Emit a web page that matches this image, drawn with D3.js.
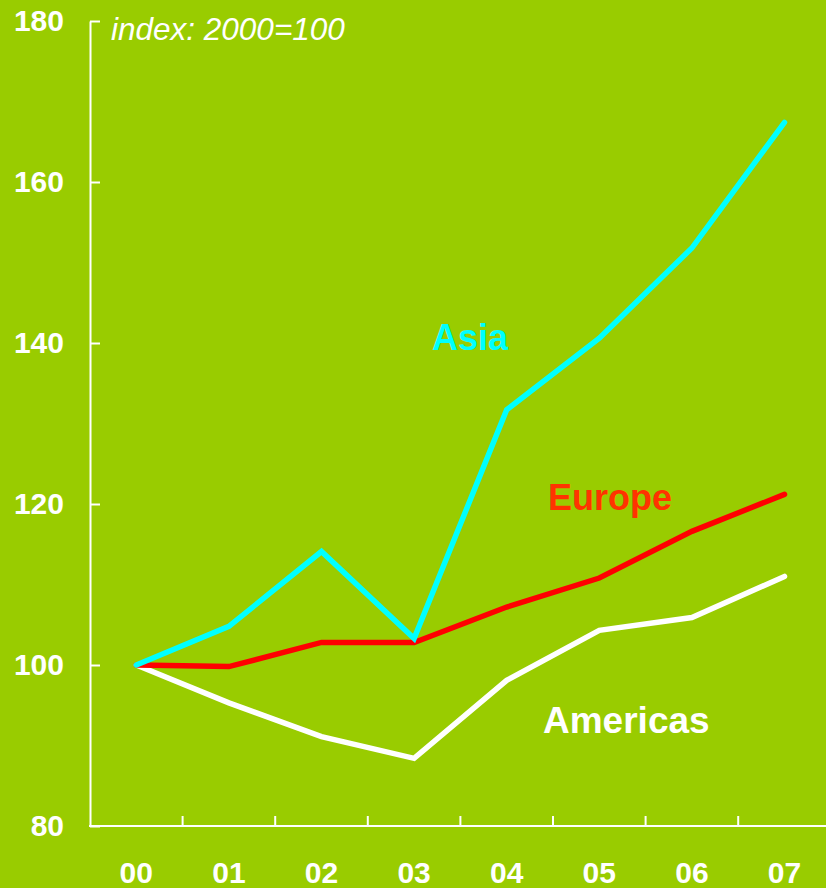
<!DOCTYPE html>
<html>
<head>
<meta charset="utf-8">
<script src="https://cdn.jsdelivr.net/npm/d3@7"></script>
<style>
  html, body { margin: 0; padding: 0; background: #99cc00; }
  svg { display: block; font-family: "Liberation Sans", Arial, sans-serif; }
</style>
</head>
<body>
<div id="chart"></div>
<script>
    // year labels on the x axis
    const years = ["00", "01", "02", "03", "04", "05", "06", "07"];
    const yTicks = [80, 100, 120, 140, 160, 180];

    // index values, 2000 = 100
    const asia = [100, 104.8, 114.1, 103.3, 131.7, 140.6, 151.8, 167.4];
    const europe = [100, 99.8, 102.8, 102.8, 107.2, 110.8, 116.6, 121.2];
    const americas = [100, 95.3, 91.1, 88.4, 98.1, 104.3, 105.9, 111.0];

    const width = 826, height = 888;

    const svg = d3.select("#chart")
        .append("svg")
        .attr("width", width)
        .attr("height", height);

    svg.append("rect")
        .attr("width", width)
        .attr("height", height)
        .attr("fill", "#99cc00");

    const x = d3.scaleBand()
        .domain(years)
        .range([90, 830.8]);
    const xMid = d => x(d) + x.bandwidth() / 2;

    const y = d3.scaleLinear()
        .domain([80, 180])
        .range([826, 21]);

    // Y axis: ticks point inwards, labels on the left
    const yAxis = svg.append("g")
        .attr("transform", "translate(90,0)")
        .call(d3.axisLeft(y)
            .tickValues(yTicks)
            .tickSizeInner(-10)
            .tickSizeOuter(0)
            .tickPadding(26));
    yAxis.selectAll("path, line")
        .attr("stroke", "white")
        .attr("stroke-width", 2);
    yAxis.selectAll("text")
        .attr("fill", "white")
        .style("font-size", "30px")
        .style("font-weight", "bold");

    // X axis: labels centred under each year, ticks between years
    const xAxis = svg.append("g")
        .attr("transform", "translate(0,826)")
        .call(d3.axisBottom(x).tickSize(0).tickPadding(36));
    xAxis.select(".domain").remove();
    xAxis.selectAll("text")
        .attr("fill", "white")
        .style("font-size", "30px")
        .style("font-weight", "bold");

    svg.append("line")
        .attr("x1", 89).attr("x2", width)
        .attr("y1", y(80)).attr("y2", y(80))
        .attr("stroke", "white")
        .attr("stroke-width", 2);

    svg.selectAll("xBetweenTicks")
        .data(years.slice(1))
        .join("line")
        .attr("x1", d => x(d)).attr("x2", d => x(d))
        .attr("y1", y(80)).attr("y2", y(80) - 10)
        .attr("stroke", "white")
        .attr("stroke-width", 2);

    const series = [
        {name: "Americas", values: americas, color: "#ffffff"},
        {name: "Europe", values: europe, color: "#ff0000"},
        {name: "Asia", values: asia, color: "#00ffff"}
    ];

    const line = d3.line()
        .x((d, i) => xMid(years[i]))
        .y(d => y(d));

    svg.selectAll("seriesLines")
        .data(series)
        .join("path")
        .attr("d", d => line(d.values))
        .attr("fill", "none")
        .attr("stroke", d => d.color)
        .attr("stroke-width", 5.5)
        .attr("stroke-linecap", "round")
        .attr("stroke-linejoin", "miter");

    // series labels
    const labels = [
        {text: "Asia", x: 432, y: 350, color: "#00ffff"},
        {text: "Europe", x: 548, y: 510, color: "#ff3300"},
        {text: "Americas", x: 543, y: 733, color: "#ffffff"}
    ];
    svg.selectAll("seriesLabels")
        .data(labels)
        .join("text")
        .attr("x", d => d.x)
        .attr("y", d => d.y)
        .attr("fill", d => d.color)
        .style("font-size", d => d.text === "Americas" ? "37px" : "36px")
        .style("font-weight", "bold")
        .text(d => d.text);

    svg.append("text")
        .attr("x", 111)
        .attr("y", 40)
        .attr("fill", "white")
        .style("font-size", "31.5px")
        .style("font-style", "italic")
        .text("index: 2000=100");
</script>
</body>
</html>
